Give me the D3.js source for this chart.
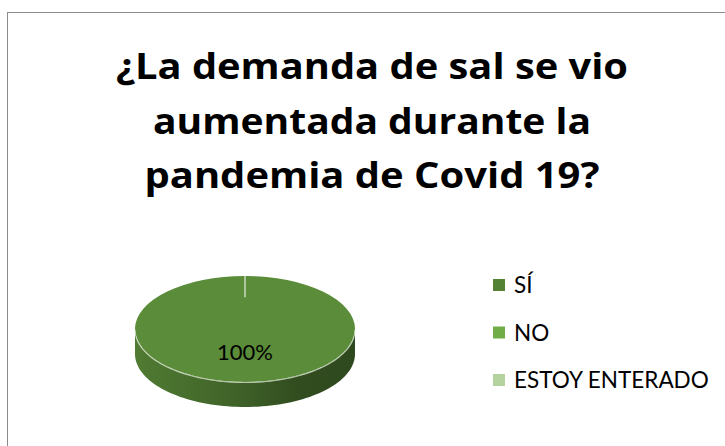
<!DOCTYPE html>
<html lang="es">
<head>
<meta charset="utf-8">
<title>Demanda de sal</title>
<script src="https://d3js.org/d3.v7.min.js"></script>
<style>
  html, body { margin: 0; padding: 0; background: #fff; }
  svg { display: block; }
  text { font-family: Lato, "Open Sans", sans-serif; fill: #000; }
</style>
</head>
<body>
<svg id="chart" width="725" height="446"></svg>
<script>
// data
const categories = ["SÍ", "NO", "ESTOY ENTERADO"];
const values = [100, 0, 0];
const colors = ["#548235", "#70ad47", "#b4d39f"];
const titleLines = ["¿La demanda de sal se vio", "aumentada durante la", "pandemia de Covid 19?"];

const W = 725, H = 446;
const svg = d3.select("#chart");

// outer frame of the chart area
svg.append("rect")
  .attr("x", 7.5).attr("y", 12.5)
  .attr("width", W).attr("height", H)
  .attr("fill", "none").attr("stroke", "#8c8c8c").attr("stroke-width", 1);

// title
const titleWidths = [512, 438, 455];
const titleY = d3.scalePoint().domain(d3.range(titleLines.length)).range([79, 188]);
svg.append("g").selectAll("text")
  .data(titleLines).enter()
  .append("text")
  .attr("x", 372)
  .attr("y", (d, i) => titleY(i))
  .attr("text-anchor", "middle")
  .attr("textLength", (d, i) => titleWidths[i])
  .attr("lengthAdjust", "spacingAndGlyphs")
  .style("font-family", "'Open Sans', Lato, sans-serif")
  .style("font-weight", "bold")
  .style("font-size", "36px")
  .text(d => d);

// 3d pie
const color = d3.scaleOrdinal().domain(categories).range(colors);
const cx = 245, cy = 329, rx = 110, ry = 53, depth = 25;
const slices = d3.pie().sort(null).value(d => d.v)(categories.map((c, i) => ({ c: c, v: values[i] })));
const pie = svg.append("g");

const defs = svg.append("defs");
slices.forEach((s, i) => {
  const base = d3.color(color(s.data.c));
  const g = defs.append("linearGradient").attr("id", "side" + i)
    .attr("x1", 0).attr("x2", 1).attr("y1", 0).attr("y2", 0);
  g.append("stop").attr("offset", "0%").attr("stop-color", base.darker(0.15));
  g.append("stop").attr("offset", "45%").attr("stop-color", base.darker(0.75));
  g.append("stop").attr("offset", "75%").attr("stop-color", base.darker(1.5));
  g.append("stop").attr("offset", "100%").attr("stop-color", base.darker(1.6));
});

const pt = (a, r, dy) => [cx + r * Math.sin(a), cy - (ry / rx) * r * Math.cos(a) + dy];
const line = d3.line();

// side walls: only the front half of the ellipse shows
slices.forEach((s, i) => {
  if (s.value <= 0) return;
  const a0 = Math.max(s.startAngle, Math.PI / 2), a1 = Math.min(s.endAngle, Math.PI * 1.5);
  if (a1 <= a0) return;
  const steps = 80;
  const angs = d3.range(steps + 1).map(k => a0 + (a1 - a0) * k / steps);
  const pts = angs.map(a => pt(a, rx, 0)).concat(angs.slice().reverse().map(a => pt(a, rx, depth)));
  pie.append("path")
    .attr("d", line(pts) + "Z")
    .attr("fill", "url(#side" + i + ")");
});

// top face
const arc = d3.arc().innerRadius(0).outerRadius(rx);
const topFace = pie.append("g")
  .attr("transform", `translate(${cx},${cy}) scale(1,${ry / rx})`);
topFace.selectAll("path")
  .data(slices.filter(s => s.value > 0)).enter()
  .append("path")
  .attr("d", arc)
  .attr("fill", d => d3.color(color(d.data.c)).brighter(0.2));

// light rim along the front edge
const rimAngs = d3.range(0, 81).map(k => Math.PI / 2 + Math.PI * k / 80);
pie.append("path")
  .attr("d", line(rimAngs.map(a => pt(a, rx, 0.5))))
  .attr("fill", "none")
  .attr("stroke", "#e4ecdc").attr("stroke-opacity", 0.75).attr("stroke-width", 1.2);

// slice boundary at start angle
slices.filter(s => s.value > 0).forEach(s => {
  const p0 = pt(s.startAngle, rx, 0), p1 = pt(s.startAngle, rx * 0.6, 0);
  pie.append("line")
    .attr("x1", p0[0]).attr("y1", p0[1]).attr("x2", p1[0]).attr("y2", p1[1])
    .attr("stroke", "#e8efe2").attr("stroke-width", 1.2);
});

// data label
const total = d3.sum(values);
slices.filter(s => s.value > 0).forEach(s => {
  const a = (s.startAngle + s.endAngle) / 2;
  const lp = s.endAngle - s.startAngle >= 2 * Math.PI - 1e-6 ? [cx, cy + 31] : pt(a, rx * 0.6, 0);
  pie.append("text")
    .attr("x", lp[0]).attr("y", lp[1])
    .attr("text-anchor", "middle")
    .style("font-size", "22px")
    .text(d3.format(".0%")(s.value / total));
});

// legend
const legY = d3.scalePoint().domain(categories).range([285, 380]);
const leg = svg.append("g").selectAll("g")
  .data(categories).enter()
  .append("g")
  .attr("transform", d => `translate(493,${legY(d)})`);
leg.append("rect")
  .attr("x", 0).attr("y", -6)
  .attr("width", 12).attr("height", 12)
  .attr("fill", d => color(d));
leg.append("text")
  .attr("x", 21).attr("y", 8)
  .style("font-size", "22.5px")
  .text(d => d);
</script>
</body>
</html>
